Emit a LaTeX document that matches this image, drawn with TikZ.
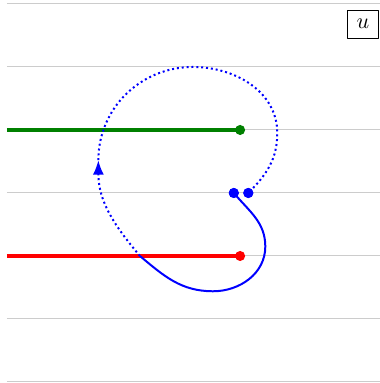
\documentclass[tikz,border=0pt]{standalone}
\usepackage{amsfonts,amsmath,amssymb}
\usetikzlibrary{arrows.meta}
\tikzset{
  every picture/.style={line join=round, >=Stealth},
  gridline/.style={line width=0.45pt, black!20},
  level/.style={line width=1.4pt},
  loopline/.style={blue, line width=0.9pt},
  dotline/.style={loopline, dash pattern=on 0.9pt off 1.3pt},
  dot/.style={circle, fill, inner sep=0pt, minimum size=#1},
}

\begin{document}
\begin{tikzpicture}
\useasboundingbox(-0.111,-0.016) rectangle (5.92,6.063);
\foreach \y in {0,...,6}
  \draw[gridline](0,\y)--(5.92,\y);
% levels
\coordinate (g0) at (0,4);
\coordinate (r0) at (0,2);
\draw[level,green!50!black](g0)--(3.70,4)node[dot=0.16cm,fill=green!50!black](g){};
\draw[level,red](r0)--(3.70,2)node[dot=0.16cm,fill=red](rr){};
% loop
\node[dot=0.16cm,blue] (a) at (3.60,3) {};
\node[dot=0.16cm,blue] (b) at (3.83,3) {};
\coordinate (rt1) at (4.10,2.15);
\coordinate (bt) at (3.27,1.44);
\coordinate (c) at (2.11,2.0);
\coordinate (l) at (1.45,3.52);
\coordinate (t) at (2.95,5.0);
\coordinate (rt2) at (4.29,3.95);
\draw[loopline](a.center) to[out=-50,in=90] (rt1) to[out=-90,in=0] (bt) to[out=180,in=-40] (c);
\draw[dotline,-{Latex[length=6.5pt,width=5pt]}](c) to[out=130,in=-90] (l);
\draw[dotline](l) to[out=90,in=180] (t) to[out=0,in=90] (rt2) to[out=-90,in=45] (b.center);
\node[dot=0.16cm,blue] at (a) {};
\node[dot=0.16cm,blue] at (b) {};
\node[draw,minimum width=0.5cm,minimum height=0.44cm,inner sep=0pt] (u) at (5.65,5.68) {$u$};
\end{tikzpicture}
\end{document}
